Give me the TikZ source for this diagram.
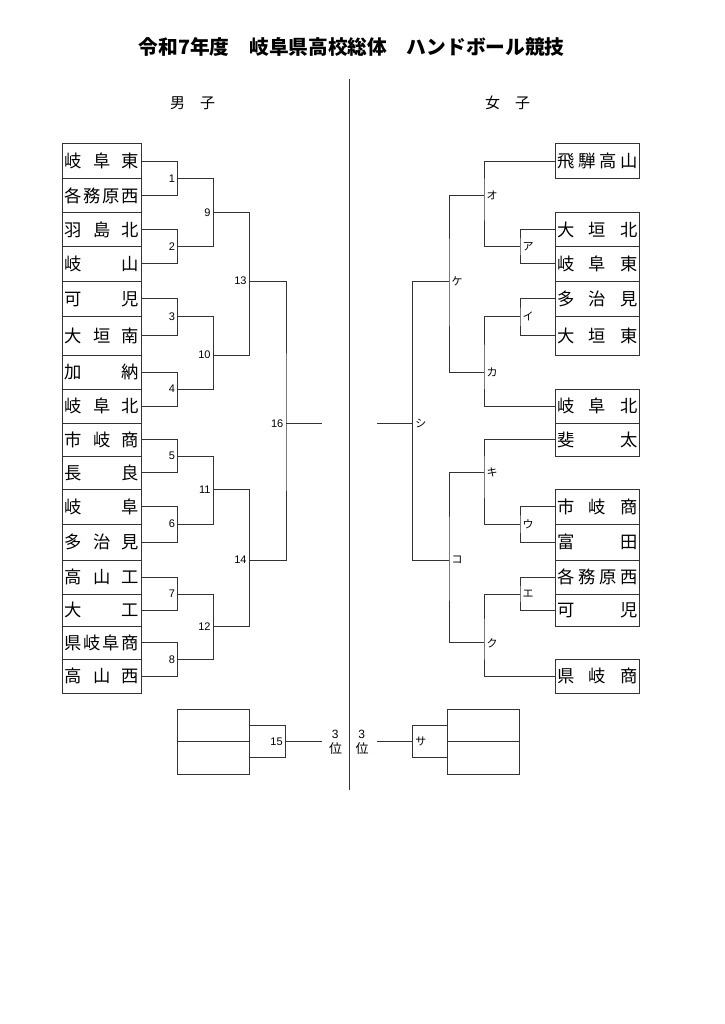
\documentclass[tikz,border=0pt]{standalone}
\usepackage{fontspec}
\setmainfont{Liberation Sans}
\newfontfamily\jp{Noto Sans CJK JP}
\tikzset{
  ln/.style={draw=black!80, line width=1pt},
  box/.style={draw=black!80, line width=1pt, inner sep=0pt, font=\jp\fontsize{17.3}{17.3}\selectfont},
  lbox/.style={box, minimum width=79.5pt},
  rbox/.style={box, minimum width=83.3pt},
  numlab/.style={font=\fontsize{11}{11}\selectfont, inner sep=0pt},
  kanalab/.style={font=\jp\fontsize{11}{11}\selectfont, inner sep=0pt},
  slot/.style={draw=black!80, line width=1pt, inner sep=0pt, minimum width=72pt},
}
\newcommand\Lrow[4]{\node[lbox, minimum height=#3pt] (#1) at (101.75,#2) {\makebox[74.4pt]{#4}};}
\newcommand\Rrow[4]{\node[rbox, minimum height=#3pt] (#1) at (597.6,#2) {\makebox[80.7pt]{#4}};}
\begin{document}
\begin{tikzpicture}[x=1pt,y=-1pt]
\fill[white] (0,0) rectangle (724,1024);
\path[use as bounding box] (0,0) rectangle (724,1024);

\node[font=\jp\bfseries\fontsize{19.7}{20}\selectfont, inner sep=0pt] (title) at (351.7,46.7) {令和7年度　岐阜県高校総体　ハンドボール競技};
\node[font=\jp\fontsize{15}{15}\selectfont, inner sep=0pt] (boys) at (192.5,103) {男　子};
\node[font=\jp\fontsize{15}{15}\selectfont, inner sep=0pt] (girls) at (507.5,103) {女　子};

\coordinate (dtop) at (349,79);
\coordinate (dbot) at (349,790);
\draw[ln] (dtop) -- (dbot);

% ---------- left (boys) boxes ----------
\Lrow{L0}{161.15}{34.3}{岐\hfill 阜\hfill 東}
\Lrow{L1}{195.5}{34.4}{各\hfill 務\hfill 原\hfill 西}
\Lrow{L2}{229.7}{34}{羽\hfill 島\hfill 北}
\Lrow{L3}{263.85}{34.3}{岐\hfill 山}
\Lrow{L4}{298.85}{35.7}{可\hfill 児}
\Lrow{L5}{335.85}{38.3}{大\hfill 垣\hfill 南}
\Lrow{L6}{372}{34}{加\hfill 納}
\Lrow{L7}{406.15}{34.3}{岐\hfill 阜\hfill 北}
\Lrow{L8}{439.65}{32.7}{市\hfill 岐\hfill 商}
\Lrow{L9}{472.65}{33.3}{長\hfill 良}
\Lrow{L10}{506.65}{34.7}{岐\hfill 阜}
\Lrow{L11}{542}{36}{多\hfill 治\hfill 見}
\Lrow{L12}{577}{34}{高\hfill 山\hfill 工}
\Lrow{L13}{610.25}{32.5}{大\hfill 工}
\Lrow{L14}{642.9}{32.8}{県\hfill 岐\hfill 阜\hfill 商}
\Lrow{L15}{676.15}{33.7}{高\hfill 山\hfill 西}

% ---------- left junctions ----------
\coordinate (m1) at (177.7,178.3);
\coordinate (m2) at (177.7,246.7);
\coordinate (m3) at (177.7,316.7);
\coordinate (m4) at (177.7,389);
\coordinate (m5) at (177.7,456);
\coordinate (m6) at (177.7,524);
\coordinate (m7) at (177.7,594);
\coordinate (m8) at (177.7,659.3);
\coordinate (m9) at (213.2,212.7);
\coordinate (m10) at (213.2,355);
\coordinate (m11) at (213.2,489.3);
\coordinate (m12) at (213.2,626.5);
\coordinate (m13) at (249.3,281);
\coordinate (m14) at (249.3,560);
\coordinate (m16) at (286,423.3);
\coordinate (mf) at (322,423.3);

\draw[ln] (L0.east) -| (m1) |- (L1.east);
\draw[ln] (L2.east) -| (m2) |- (L3.east);
\draw[ln] (L4.east) -| (m3) |- (L5.east);
\draw[ln] (L6.east) -| (m4) |- (L7.east);
\draw[ln] (L8.east) -| (m5) |- (L9.east);
\draw[ln] (L10.east) -| (m6) |- (L11.east);
\draw[ln] (L12.east) -| (m7) |- (L13.east);
\draw[ln] (L14.east) -| (m8) |- (L15.east);
\draw[ln] (m1) -| (m9) |- (m2);
\draw[ln] (m3) -| (m10) |- (m4);
\draw[ln] (m5) -| (m11) |- (m6);
\draw[ln] (m7) -| (m12) |- (m8);
\draw[ln] (m9) -| (m13) |- (m10);
\draw[ln] (m11) -| (m14) |- (m12);
\draw[ln] (m13) -| (m16) |- (m14);
\draw[ln] (m16) -- (mf);

\foreach \n in {1,...,14,16}{
  \node[numlab, anchor=east] (t\n) at ([xshift=-2.5pt]m\n) {\n};
}

% ---------- right (girls) boxes ----------
\Rrow{R0}{161.15}{34.3}{飛\hfill 騨\hfill 高\hfill 山}
\Rrow{R2}{229.7}{34}{大\hfill 垣\hfill 北}
\Rrow{R3}{263.85}{34.3}{岐\hfill 阜\hfill 東}
\Rrow{R4}{298.85}{35.7}{多\hfill 治\hfill 見}
\Rrow{R5}{335.85}{38.3}{大\hfill 垣\hfill 東}
\Rrow{R7}{406.15}{34.3}{岐\hfill 阜\hfill 北}
\Rrow{R8}{439.65}{32.7}{斐\hfill 太}
\Rrow{R10}{506.65}{34.7}{市\hfill 岐\hfill 商}
\Rrow{R11}{542}{36}{富\hfill 田}
\Rrow{R12}{577}{34}{各\hfill 務\hfill 原\hfill 西}
\Rrow{R13}{610.25}{32.5}{可\hfill 児}
\Rrow{R15}{676.15}{33.7}{県\hfill 岐\hfill 商}

% ---------- right junctions ----------
\coordinate (ra) at (520,246.7);
\coordinate (ri) at (520,316.7);
\coordinate (ru) at (520,524);
\coordinate (re) at (520,594);
\coordinate (ro) at (484,195.5);
\coordinate (rka) at (484,372);
\coordinate (rki) at (484,472.6);
\coordinate (rku) at (484,642.9);
\coordinate (rke) at (449,281);
\coordinate (rko) at (449,560);
\coordinate (rsh) at (412.7,423.3);
\coordinate (rf) at (377,423.3);

\draw[ln] (R2.west) -| (ra) |- (R3.west);
\draw[ln] (R4.west) -| (ri) |- (R5.west);
\draw[ln] (R10.west) -| (ru) |- (R11.west);
\draw[ln] (R12.west) -| (re) |- (R13.west);
\draw[ln] (R0.west) -| (ro) |- (ra);
\draw[ln] (ri) -| (rka) |- (R7.west);
\draw[ln] (R8.west) -| (rki) |- (ru);
\draw[ln] (re) -| (rku) |- (R15.west);
\draw[ln] (ro) -| (rke) |- (rka);
\draw[ln] (rki) -| (rko) |- (rku);
\draw[ln] (rke) -| (rsh) |- (rko);
\draw[ln] (rsh) -- (rf);

\node[kanalab, anchor=west] (ta) at ([xshift=2.5pt]ra) {ア};
\node[kanalab, anchor=west] (ti) at ([xshift=2.5pt]ri) {イ};
\node[kanalab, anchor=west] (tu) at ([xshift=2.5pt]ru) {ウ};
\node[kanalab, anchor=west] (te) at ([xshift=2.5pt]re) {エ};
\node[kanalab, anchor=west] (to) at ([xshift=2.5pt]ro) {オ};
\node[kanalab, anchor=west] (tka) at ([xshift=2.5pt]rka) {カ};
\node[kanalab, anchor=west] (tki) at ([xshift=2.5pt]rki) {キ};
\node[kanalab, anchor=west] (tku) at ([xshift=2.5pt]rku) {ク};
\node[kanalab, anchor=west] (tke) at ([xshift=2.5pt]rke) {ケ};
\node[kanalab, anchor=west] (tko) at ([xshift=2.5pt]rko) {コ};
\node[kanalab, anchor=west] (tsh) at ([xshift=2.5pt]rsh) {シ};

% ---------- third place ----------
\node[slot, minimum height=32.7pt] (T1a) at (213.3,725.35) {};
\node[slot, minimum height=32.3pt] (T1b) at (213.3,757.85) {};
\node[slot, minimum width=36.4pt, minimum height=32pt, inner xsep=3pt, font=\fontsize{11}{11}\selectfont] (T15) at (267.5,741.7) {\makebox[30.4pt][r]{15}};
\coordinate (f15) at (322,741.7);
\draw[ln] (T15.east) -- (f15);

\node[slot, minimum height=32.7pt] (T2a) at (483.5,725.35) {};
\node[slot, minimum height=32.3pt] (T2b) at (483.5,757.85) {};
\node[slot, minimum width=35.4pt, minimum height=32pt, inner xsep=3pt, font=\jp\fontsize{11}{11}\selectfont] (TS) at (430,741.7) {\makebox[29.4pt][l]{サ}};
\coordinate (fS) at (377,741.7);
\draw[ln] (fS) -- (TS.west);

\node[font=\fontsize{12}{12}\selectfont, inner sep=0pt] (p3La) at (335.2,734.3) {3};
\node[font=\jp\fontsize{13}{13}\selectfont, inner sep=0pt] (p3Lb) at (335.5,748.3) {位};
\node[font=\fontsize{12}{12}\selectfont, inner sep=0pt] (p3Ra) at (361.7,734.3) {3};
\node[font=\jp\fontsize{13}{13}\selectfont, inner sep=0pt] (p3Rb) at (362.2,748.3) {位};
\end{tikzpicture}
\end{document}
